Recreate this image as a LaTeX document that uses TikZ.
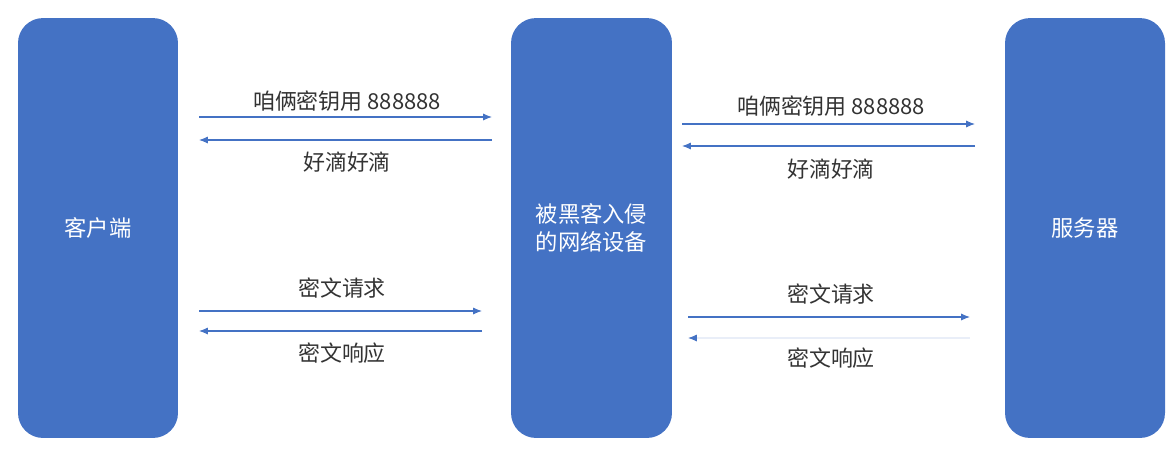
\documentclass[tikz,border=0pt]{standalone}
\usepackage{fontspec}
\setmainfont{Noto Sans CJK SC}
\usetikzlibrary{arrows.meta}
\definecolor{boxblue}{HTML}{4472C4}
\begin{document}
\begin{tikzpicture}[x=0.02cm, y=-0.02cm,
    box/.style={fill=boxblue, rounded corners=0.5cm, minimum width=3.2cm, minimum height=8.4cm,
        text=white, align=center, font=\fontsize{12.7}{15.5}\selectfont},
    msg/.style={draw=boxblue, line width=0.6pt, -{Latex[length=5pt,width=4pt]}},
    lbl/.style={text=black!80, font=\fontsize{12.5}{14}\selectfont}]
    \useasboundingbox (0,0) rectangle (1176,451);
    % Parties
    \node[box] (client) at (98,228) {客户端};
    \node[box, minimum width=3.22cm] (hacked) at (591.5,228) {被黑客入侵\\的网络设备};
    \node[box] (server) at (1085,228) {服务器};

    % Messages
    \foreach \n/\xa/\xb/\y in {ka/199/492/117, kb/492/199/140, kc/682/975/124, kd/975/682/146,
                               ra/199/482/311, rb/482/199/331, rc/688/970/317} {
        \coordinate (\n s) at (\xa,\y);
        \coordinate (\n e) at (\xb,\y);
        \draw[msg] (\n s) -- (\n e);
    }
    \coordinate (rds) at (970,338);
    \coordinate (rde) at (688,338);
    \draw[draw=boxblue!12, line width=0.6pt, -{Latex[length=5pt,width=4pt,color=boxblue]}] (rds) -- (rde);

    \node[lbl] (keyl) at (347,101) {咱俩密钥用 888888};
    \node[lbl] (okl) at (347,162) {好滴好滴};
    \node[lbl] (keyr) at (831,106) {咱俩密钥用 888888};
    \node[lbl] (okr) at (831,169) {好滴好滴};
    \node[lbl] (reql) at (342,288) {密文请求};
    \node[lbl] (resl) at (342,353) {密文响应};
    \node[lbl] (reqr) at (831,294) {密文请求};
    \node[lbl] (resr) at (831,358) {密文响应};
\end{tikzpicture}
\end{document}
